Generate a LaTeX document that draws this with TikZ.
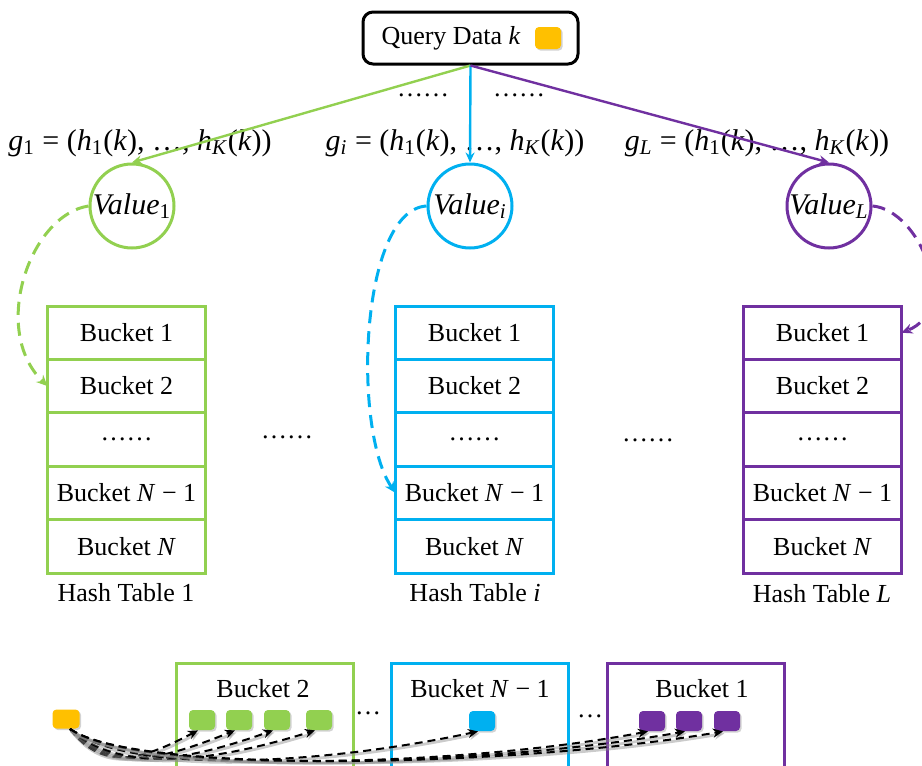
\documentclass[tikz,border=0pt]{standalone}
\usepackage{fontspec}
\setmainfont{Liberation Serif}
\usetikzlibrary{arrows.meta,shadows}
\definecolor{tgreen}{HTML}{92D050}
\definecolor{tblue}{HTML}{00B0F0}
\definecolor{tpurple}{HTML}{7030A0}
\definecolor{korange}{HTML}{FFC000}
\tikzset{
  txt/.style={inner sep=0pt, font=\fontsize{13}{15.6}\selectfont},
  mtxt/.style={inner sep=0pt, font=\fontsize{15}{18}\selectfont},
  qbox/.style={draw=black, line width=1.5pt, rounded corners=5pt, fill=white,
    minimum width=107.5pt, minimum height=26pt, inner sep=0pt},
  cell/.style={draw=#1, line width=1.5pt, fill=white, minimum width=79pt,
    minimum height=26.7pt, inner sep=0pt, outer sep=0pt,
    font=\fontsize{13}{15.6}\selectfont},
  valnode/.style={circle, draw=#1, line width=1.5pt, fill=white, minimum size=42pt,
    inner sep=0pt, font=\fontsize{15}{18}\selectfont},
  keysq/.style={fill=#1, rounded corners=2pt, minimum width=13pt, minimum height=10pt,
    inner sep=0pt, drop shadow={opacity=0.35, shadow xshift=0.8pt, shadow yshift=-0.8pt}},
  bucketbox/.style={draw=#1, line width=1.5pt, minimum width=88.5pt,
    minimum height=64pt, inner sep=0pt},
  feed/.style={draw=#1, line width=1.2pt, -{Stealth[length=5pt,width=4.5pt]}},
  lookup/.style={draw=#1, line width=1.5pt, dash pattern=on 6.5pt off 4pt,
    -{Stealth[length=5.5pt,width=5pt]}},
  probe/.style={draw=black, line width=1pt, dash pattern=on 4pt off 2.5pt,
    -{Stealth[length=5pt,width=4.5pt]},
    preaction={draw=black!45, line width=1.4pt, opacity=0.45,
      transform canvas={xshift=0.7pt,yshift=-1pt}}},
}
\begin{document}
\begin{tikzpicture}[x=0.5pt,y=-0.5pt]
\useasboundingbox (0,0) rectangle (922,766);
\clip (0,0) rectangle (922,766);

% query node
\node[qbox] (query) at (470.5,38) {};
\node[txt] (qtext) at (451,38) {Query Data \textit{k}};
\node[keysq=korange, minimum height=11pt] (qkey) at (548,38) {};
\node[txt] (qdl) at (423,95) {……};
\node[txt] (qdr) at (519,95) {……};

% hash functions
\node[mtxt] (f1) at (140,143) {\textit{g}\textsubscript{1} = (\textit{h}\textsubscript{1}(\textit{k}), …, \textit{h}\textsubscript{\textit{K}}(\textit{k}))};
\node[mtxt] (fi) at (455,143) {\textit{g}\textsubscript{\textit{i}} = (\textit{h}\textsubscript{1}(\textit{k}), …, \textit{h}\textsubscript{\textit{K}}(\textit{k}))};
\node[mtxt] (fL) at (757,143) {\textit{g}\textsubscript{\textit{L}} = (\textit{h}\textsubscript{1}(\textit{k}), …, \textit{h}\textsubscript{\textit{K}}(\textit{k}))};

% hash values
\node[valnode=tgreen] (v1) at (132,206) {\textit{Value}\textsubscript{1}};
\node[valnode=tblue] (vi) at (470,206) {\textit{Value}\textsubscript{\textit{i}}};
\node[valnode=tpurple] (vL) at (829,206) {\textit{Value}\textsubscript{\textit{L}}};

\draw[feed=tgreen] (query.south) -- (v1.north);
\draw[feed=tblue] (query.south) -- (vi.north);
\draw[feed=tpurple] (query.south) -- (vL.north);

% hash tables
\foreach \tab/\cx/\col in {1/126.5/tgreen, i/474.5/tblue, L/822.5/tpurple}{
  \node[cell=\col] (t\tab r1) at (\cx,332.7) {Bucket 1};
  \node[cell=\col] (t\tab r2) at (\cx,386.1) {Bucket 2};
  \node[cell=\col] (t\tab r3) at (\cx,439.5) {……};
  \node[cell=\col] (t\tab r4) at (\cx,492.9) {Bucket \textit{N} − 1};
  \node[cell=\col] (t\tab r5) at (\cx,546.3) {Bucket \textit{N}};
}
\node[txt] (h1) at (126,593) {Hash Table 1};
\node[txt] (hi) at (475,593) {Hash Table \textit{i}};
\node[txt] (hL) at (822,594) {Hash Table \textit{L}};
\node[txt] (td1) at (287,437) {……};
\node[txt] (td2) at (648,440) {……};

% bucket lookups
\draw[lookup=tgreen] (v1.west) .. controls (30,215) and (-10,330) .. (t1r2.west);
\draw[lookup=tblue] (vi.west) .. controls (360,210) and (352,430) .. (tir4.west);
\draw[lookup=tpurple] (vL.east) .. controls (920,210) and (960,310) .. (tLr1.east);

% retrieved buckets
\node[bucketbox=tgreen] (bb2) at (264.5,727) {};
\node[bucketbox=tblue] (bbn) at (480,727) {};
\node[bucketbox=tpurple] (bb1) at (696,727) {};
\node[txt] (bb2t) at (263,689) {Bucket 2};
\node[txt] (bbnt) at (480,689) {Bucket \textit{N} − 1};
\node[txt] (bb1t) at (702,689) {Bucket 1};
\node[txt] (bd1) at (368,713) {…};
\node[txt] (bd2) at (590,716) {…};

\node[keysq=korange, minimum width=13.5pt, minimum height=9.5pt] (q0) at (66,719) {};
\node[keysq=tgreen] (g1) at (202,720) {};
\node[keysq=tgreen] (g2) at (239,720) {};
\node[keysq=tgreen] (g3) at (277,720) {};
\node[keysq=tgreen] (g4) at (319,720) {};
\node[keysq=tblue] (b1) at (482,721) {};
\node[keysq=tpurple] (p1) at (652,721) {};
\node[keysq=tpurple] (p2) at (689,721) {};
\node[keysq=tpurple] (p3) at (727,721) {};

% candidate comparisons
\foreach \t/\a/\b/\c in {g1/35/50/26, g2/40/70/28, g3/45/85/30, g4/50/100/31,
                         b1/60/160/34, p1/65/190/36, p2/65/200/36, p3/65/210/36}{
  \draw[probe] ([xshift=2pt]q0.south) .. controls +(\a,46) and +(-\b,\c) .. ([xshift=-2pt]\t.south);
}
\end{tikzpicture}
\end{document}
